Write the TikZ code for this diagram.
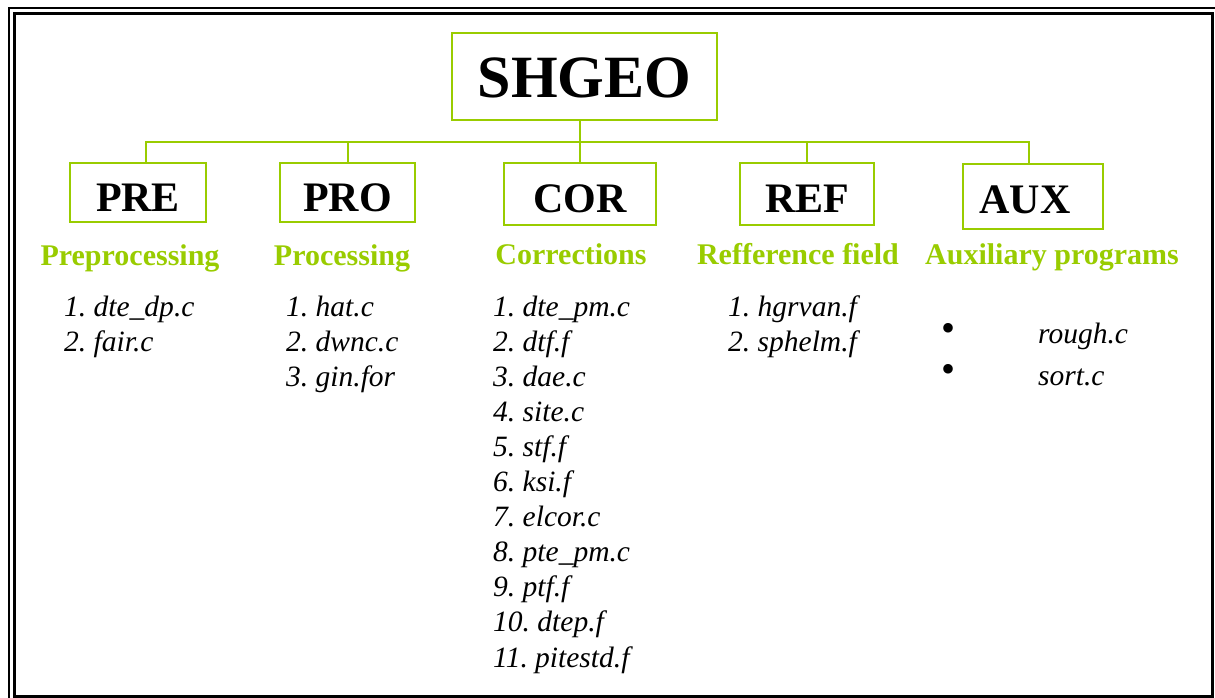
\documentclass[tikz,border=0pt]{standalone}
\usepackage{fontspec}
\setmainfont{Liberation Serif}
\frenchspacing
\definecolor{lime}{HTML}{99CC00}
\begin{document}
\begin{tikzpicture}[x=1pt,y=-1pt,
  box/.style={draw=lime, line width=2pt, inner sep=0pt, anchor=north west, font=\bfseries\fontsize{42}{42}\selectfont},
  conn/.style={draw=lime, line width=2pt},
  grp/.style={anchor=base, text=lime, inner sep=0pt, font=\bfseries\fontsize{30}{30}\selectfont},
  item/.style={anchor=base west, inner sep=0pt, font=\itshape\fontsize{29.5}{29.5}\selectfont},
  bul/.style={anchor=base, inner sep=0pt, font=\fontsize{40}{40}\selectfont},
  frame/.style={draw=black}]
\useasboundingbox (0,0) rectangle (1215,698);
% frame
\draw[frame, line width=2.5pt] (9,698) -- (9,8) -- (1215,8);
\draw[frame, line width=3pt] (14,14) rectangle (1212,696);
% boxes
\node[box, minimum width=265pt, text height=65pt, text depth=22pt, font=\bfseries\fontsize{60}{60}\selectfont] (shgeo) at (451,32) {SHGEO};
\node[box, minimum width=136pt, text height=48pt, text depth=11pt] (pre) at (69,162) {PRE};
\node[box, minimum width=135pt, text height=48pt, text depth=11pt] (pro) at (279,162) {PRO};
\node[box, minimum width=152pt, text height=49pt, text depth=13pt] (cor) at (503,162) {COR};
\node[box, minimum width=134pt, text height=49pt, text depth=13pt] (ref) at (739,162) {REF};
\node[box, minimum width=140pt, text height=49pt, text depth=16pt] (aux) at (962,163) {AUX\kern16pt};
% connectors
\coordinate (bl) at (146,142);
\coordinate (br) at (1029,142);
\draw[conn] (pre.north -| bl) -- (bl) -- (br) -- (aux.north -| br);
\draw[conn] (pro.north) -- (pro.north |- bl);
\draw[conn] (shgeo.south -| cor.north) -- (cor.north);
\draw[conn] (ref.north) -- (ref.north |- bl);
% group labels
\node[grp] (preL) at (130,265) {Preprocessing};
\node[grp] (proL) at (342,265) {Processing};
\node[grp] (corL) at (571,264) {Corrections};
\node[grp] (refL) at (798,264) {Refference field};
\node[grp] (auxL) at (1052,264) {Auxiliary programs};
% lists
\foreach \t [count=\i] in {1. dte\_dp.c, 2. fair.c}
  \node[item] (pre\i) at (64,{316+35*(\i-1)}) {\t};
\foreach \t [count=\i] in {1. hat.c, 2. dwnc.c, 3. gin.for}
  \node[item] (pro\i) at (286,{316+35*(\i-1)}) {\t};
\foreach \t [count=\i] in {1. dte\_pm.c, 2. dtf.f, 3. dae.c, 4. site.c, 5. stf.f, 6. ksi.f, 7. elcor.c, 8. pte\_pm.c, 9. ptf.f, 10. dtep.f, 11. pitestd.f}
  \node[item] (cor\i) at (493,{316+35.1*(\i-1)}) {\t};
\foreach \t [count=\i] in {1. hgrvan.f, 2. sphelm.f}
  \node[item] (ref\i) at (728,{316+35*(\i-1)}) {\t};
\node[item] (aux1) at (1038,343) {rough.c};
\node[item] (aux2) at (1038,385) {sort.c};
\node[bul] (b1) at (948,341) {\textbullet};
\node[bul] (b2) at (948,382) {\textbullet};
\end{tikzpicture}
\end{document}
